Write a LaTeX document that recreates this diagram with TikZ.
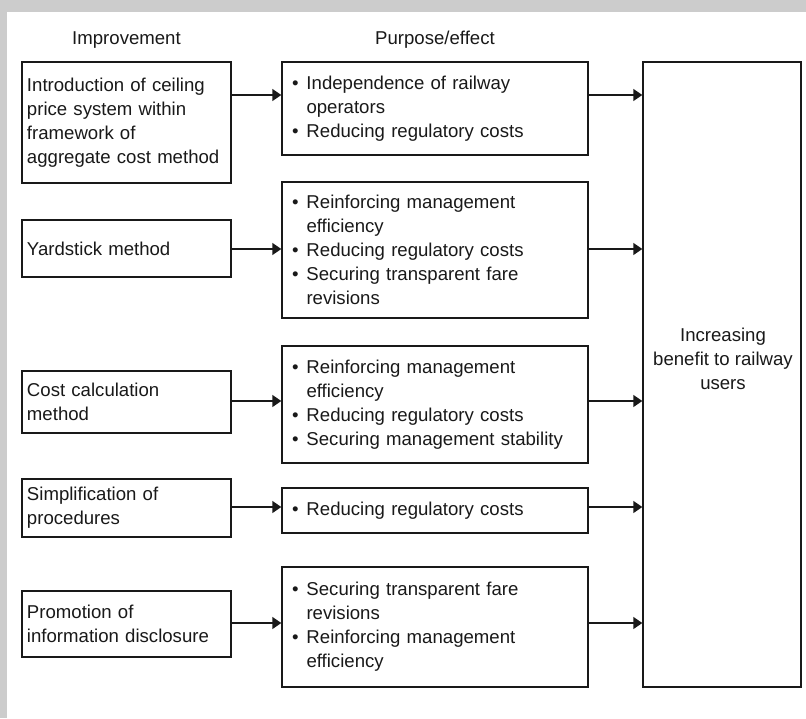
\documentclass[tikz,border=0pt]{standalone}
\usepackage{fontspec}
\setmainfont{Liberation Sans}
\usetikzlibrary{arrows.meta}
\definecolor{bg}{RGB}{204,204,204}
\definecolor{ln}{RGB}{25,25,25}
\newcommand\bul{\makebox[14.5pt][l]{\textbullet}}
\newcommand\ind{\hspace*{14.5pt}}
\begin{document}
\begin{tikzpicture}[x=1pt,y=-1pt,
  txt/.style={font=\fontsize{18.6}{24}\selectfont, text=ln},
  box/.style={txt, draw=ln, line width=1.4pt, rectangle, inner ysep=0pt},
  lbox/.style={box, inner xsep=5pt, text width=199pt, align=left, minimum width=209pt},
  mbox/.style={box, inner xsep=10pt, text width=286pt, align=left, minimum width=306pt},
  rbox/.style={draw=ln, line width=1.4pt, rectangle, inner sep=0pt, minimum width=158pt, minimum height=625pt},
  arr/.style={draw=ln, line width=1.4pt, -{Triangle[length=9pt,width=12pt]}}]
\useasboundingbox (0,0) rectangle (806,718);
\fill[bg] (0,0) rectangle (806,718);
\fill[white] (7,12) rectangle (806,718);

\node[txt] (h1) at (126.5,40) {Improvement};
\node[txt] (h2) at (435,40) {Purpose/effect};

\node[lbox, minimum height=121pt] (L1) at (126.5,122.5) {Introduction of ceiling\\price system within\\framework of\\aggregate cost method};
\node[lbox, minimum height=57pt] (L2) at (126.5,248.5) {Yardstick method};
\node[lbox, minimum height=62pt] (L3) at (126.5,402) {Cost calculation\\method};
\node[lbox, minimum height=58pt] (L4) at (126.5,508) {Simplification of\\procedures};
\node[lbox, minimum height=66pt] (L5) at (126.5,624) {Promotion of\\information disclosure};

\node[mbox, minimum height=93pt] (M1) at (435,108.5) {\bul Independence of railway\\\ind operators\\\bul Reducing regulatory costs};
\node[mbox, minimum height=136pt] (M2) at (435,250) {\bul Reinforcing management\\\ind efficiency\\\bul Reducing regulatory costs\\\bul Securing transparent fare\\\ind revisions};
\node[mbox, minimum height=117pt] (M3) at (435,404.5) {\bul Reinforcing management\\\ind efficiency\\\bul Reducing regulatory costs\\\bul Securing management stability};
\node[mbox, minimum height=45pt] (M4) at (435,510.5) {\bul Reducing regulatory costs};
\node[mbox, minimum height=120pt] (M5) at (435,627) {\bul Securing transparent fare\\\ind revisions\\\bul Reinforcing management\\\ind efficiency};

\node[rbox] (R) at (722,374.5) {};
\node[txt, align=center] (Rt) at (723,359) {Increasing\\benefit to railway\\users};

\draw[arr] (L1.east |- 0,95) -- (M1.west |- 0,95);
\draw[arr] (L2.east |- 0,249) -- (M2.west |- 0,249);
\draw[arr] (L3.east |- 0,401) -- (M3.west |- 0,401);
\draw[arr] (L4.east |- 0,507) -- (M4.west |- 0,507);
\draw[arr] (L5.east |- 0,623) -- (M5.west |- 0,623);

\draw[arr] (M1.east |- 0,95) -- (R.west |- 0,95);
\draw[arr] (M2.east |- 0,249) -- (R.west |- 0,249);
\draw[arr] (M3.east |- 0,401) -- (R.west |- 0,401);
\draw[arr] (M4.east |- 0,507) -- (R.west |- 0,507);
\draw[arr] (M5.east |- 0,623) -- (R.west |- 0,623);
\end{tikzpicture}
\end{document}
